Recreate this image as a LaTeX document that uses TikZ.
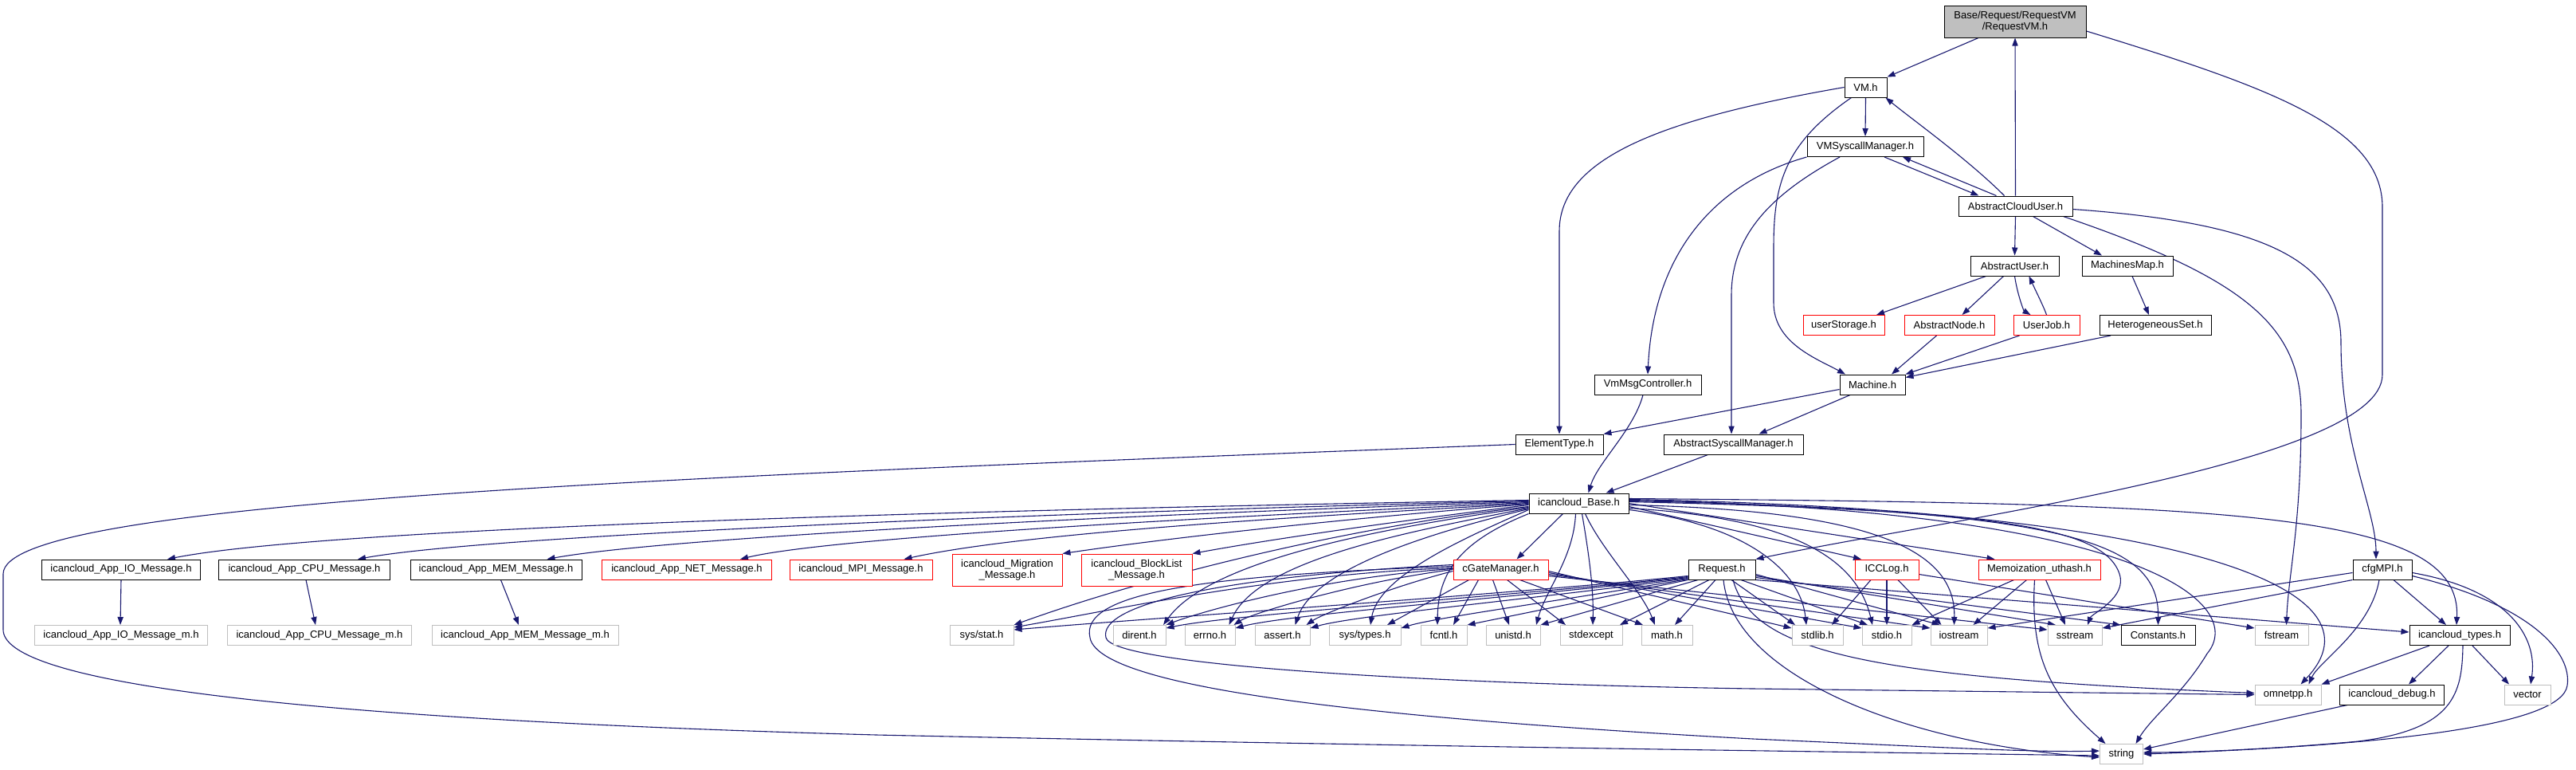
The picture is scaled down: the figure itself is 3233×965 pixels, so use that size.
\documentclass[tikz,border=0pt]{standalone}
\usepackage{fontspec}
\setmainfont{Liberation Sans}
\usetikzlibrary{arrows.meta,backgrounds}
\definecolor{mblue}{HTML}{191970}
\definecolor{lgray}{HTML}{BFBFBF}
\newcommand\dxfont{\fontsize{6.5}{7}\selectfont}
\begin{document}
\begin{tikzpicture}[x=0.5pt,y=-0.5pt,
  box/.style={draw, fill=white, line width=0.5pt, inner sep=0pt, minimum height=12.5pt, font=\dxfont, align=center},
  nb/.style={box, draw=black},
  nr/.style={box, draw=red},
  ng/.style={box, draw=lgray},
  lk/.style={draw=mblue, line width=0.55pt, -{Triangle[length=5pt,width=3.6pt]}}]
\begin{scope}[on background layer]
\path[use as bounding box, fill=white] (0,0) rectangle (3233,965);
\end{scope}
% ---------------- nodes ----------------
\node[nb, fill=lgray, minimum width=89pt, minimum height=20pt] (top) at (2529,27) {Base/Request/RequestVM\\/RequestVM.h};
\node[nb, minimum width=26.5pt] (vm) at (2341.5,109.5) {VM.h};
\node[nb, minimum width=73pt] (vmsys) at (2341,184) {VMSyscallManager.h};
\node[nb, minimum width=71.5pt] (acu) at (2529.5,258.5) {AbstractCloudUser.h};
\node[nb, minimum width=55.5pt] (au) at (2528.5,333.5) {AbstractUser.h};
\node[nb, minimum width=57pt] (mmap) at (2670,333.5) {MachinesMap.h};
\node[nr, minimum width=51pt] (ustor) at (2314,408) {userStorage.h};
\node[nr, minimum width=56.5pt] (anode) at (2446.5,408) {AbstractNode.h};
\node[nr, minimum width=41.5pt] (ujob) at (2568.5,408) {UserJob.h};
\node[nb, minimum width=70pt] (hset) at (2705,408) {HeterogeneousSet.h};
\node[nb, minimum width=41pt] (machine) at (2350,482.5) {Machine.h};
\node[nb, minimum width=67pt] (vmmsg) at (2068,482.5) {VmMsgController.h};
\node[nb, minimum width=55pt] (etype) at (1957,557.5) {ElementType.h};
\node[nb, minimum width=87.5pt] (asys) at (2175.5,557.5) {AbstractSyscallManager.h};
\node[nb, minimum width=62.5pt] (base) at (1981.5,631.5) {icancloud\_Base.h};
\node[nb, minimum width=99.5pt] (io) at (152,714.5) {icancloud\_App\_IO\_Message.h};
\node[nb, minimum width=107.5pt] (cpu) at (382,714.5) {icancloud\_App\_CPU\_Message.h};
\node[nb, minimum width=107.5pt] (mem) at (622.5,714.5) {icancloud\_App\_MEM\_Message.h};
\node[nr, minimum width=106.5pt] (net) at (862,714.5) {icancloud\_App\_NET\_Message.h};
\node[nr, minimum width=89.5pt] (mpi) at (1080.5,714.5) {icancloud\_MPI\_Message.h};
\node[nr, minimum width=69pt, minimum height=20pt] (migr) at (1264,715) {icancloud\_Migration\\\_Message.h};
\node[nr, minimum width=69.5pt, minimum height=20pt] (block) at (1426.5,715) {icancloud\_BlockList\\\_Message.h};
\node[nr, minimum width=59.5pt] (cgate) at (1883.5,714.5) {cGateManager.h};
\node[nb, minimum width=42pt] (request) at (2161,714.5) {Request.h};
\node[nr, minimum width=40pt] (iccl) at (2368,714.5) {ICCLog.h};
\node[nr, minimum width=76.5pt] (memo) at (2559.5,714.5) {Memoization\_uthash.h};
\node[nb, minimum width=37pt] (cfgmpi) at (2990,714.5) {cfgMPI.h};
\node[ng, minimum width=108.5pt] (iom) at (152,797) {icancloud\_App\_IO\_Message\_m.h};
\node[ng, minimum width=115.5pt] (cpum) at (401,797) {icancloud\_App\_CPU\_Message\_m.h};
\node[ng, minimum width=117pt] (memm) at (659,797) {icancloud\_App\_MEM\_Message\_m.h};
\node[ng, minimum width=40pt] (sysstat) at (1232,797) {sys/stat.h};
\node[ng, minimum width=33pt] (dirent) at (1430,797) {dirent.h};
\node[ng, minimum width=31.5pt] (errno) at (1518.5,797) {errno.h};
\node[ng, minimum width=34.5pt] (assert) at (1609.5,797) {assert.h};
\node[ng, minimum width=45pt] (systypes) at (1713,797) {sys/types.h};
\node[ng, minimum width=29pt] (fcntl) at (1812,797) {fcntl.h};
\node[ng, minimum width=34pt] (unistd) at (1899,797) {unistd.h};
\node[ng, minimum width=39pt] (stdexcept) at (1997,797) {stdexcept};
\node[ng, minimum width=32pt] (math) at (2092,797) {math.h};
\node[ng, minimum width=32pt] (stdlib) at (2281,797) {stdlib.h};
\node[ng, minimum width=31pt] (stdio) at (2368,797) {stdio.h};
\node[ng, minimum width=35.5pt] (iostream) at (2458.5,797) {iostream};
\node[ng, minimum width=34pt] (sstream) at (2604,797) {sstream};
\node[nb, minimum width=46.5pt] (constants) at (2708.5,797) {Constants.h};
\node[ng, minimum width=33.5pt] (fstream) at (2863.5,797) {fstream};
\node[nb, minimum width=63pt] (types) at (3087,797) {icancloud\_types.h};
\node[ng, minimum width=41.5pt] (omnetpp) at (2871.5,871.5) {omnetpp.h};
\node[nb, minimum width=65.5pt] (debug) at (3002,871.5) {icancloud\_debug.h};
\node[ng, minimum width=29pt] (vector) at (3172,871.5) {vector};
\node[ng, minimum width=27pt] (string) at (2662.5,946) {string};
% ---------------- edges ----------------
\begin{scope}[on background layer]
% upper part
\draw[lk] ([xshift=-23pt]top.south) -- (vm.north east);
\draw[lk] ([yshift=-6pt]top.east) .. controls (2850,110) and (2990,160) .. (2990,260) -- (2990,470) .. controls (2990,580) and (2450,650) .. (request.north east);
\draw[lk] (acu.north) -- (top.south);
\draw[lk] (vm.south) -- (vmsys.north);
\draw[lk] (vm.west) .. controls (2080,150) and (1957,200) .. (1957,290) -- (etype.north);
\draw[lk] ([xshift=-9pt]vm.south) .. controls (2240,180) and (2226,230) .. (2226,310) -- (2226,380) .. controls (2226,430) and (2280,450) .. ([xshift=-17pt]machine.north);
\draw[lk] ([xshift=-7pt]acu.north) .. controls (2470,200) and (2400,150) .. ([xshift=-1pt]vm.south east);
\draw[lk] (vmsys.south west) .. controls (2150,230) and (2075,320) .. (vmmsg.north);
\draw[lk] ([xshift=-16pt]vmsys.south) .. controls (2230,240) and (2173,290) .. (2173,370) -- ([xshift=-1.25pt]asys.north);
\draw[lk] ([xshift=12pt]vmsys.south) -- ([xshift=-23pt]acu.north);
\draw[lk] ([xshift=-12pt]acu.north) -- ([xshift=23.5pt]vmsys.south);
\draw[lk] (acu.south) -- (au.north);
\draw[lk] ([xshift=11pt]acu.south) -- ([xshift=-16pt]mmap.north);
\draw[lk] ([xshift=30pt]acu.south) .. controls (2820,350) and (2888,410) .. (2888,520) .. controls (2888,660) and (2872,720) .. ([xshift=3pt]fstream.north);
\draw[lk] ([yshift=-2pt]acu.east) .. controls (2850,280) and (2938,330) .. (2938,430) .. controls (2938,560) and (2982,640) .. ([xshift=-4pt]cfgmpi.north);
\draw[lk] ([xshift=-18pt]au.south) -- ([xshift=20.5pt]ustor.north);
\draw[lk] ([xshift=-7pt]au.south) -- ([xshift=8pt]anode.north);
\draw[lk] ([xshift=0pt]au.south) .. controls (2532,370) and (2540,390) .. ([xshift=-10pt]ujob.north);
\draw[lk] (ujob.north) .. controls (2565,385) and (2555,365) .. ([xshift=9pt]au.south);
\draw[lk] ([xshift=3pt]mmap.south) -- ([xshift=-4pt]hset.north);
\draw[lk] ([xshift=-8pt]anode.south) -- ([xshift=12pt]machine.north);
\draw[lk] ([xshift=-17pt]ujob.south) -- (machine.north east);
\draw[lk] ([xshift=-28pt]hset.south) -- ([yshift=-2pt]machine.north east);
\draw[lk] ([yshift=-3pt]machine.west) -- (etype.north east);
\draw[lk] ([xshift=-14pt]machine.south) -- ([xshift=16pt]asys.north);
\draw[lk] ([xshift=-3pt]vmmsg.south) .. controls (2050,540) and (2005,580) .. ([xshift=6pt]base.north);
\draw[lk] ([xshift=-16pt]asys.south) -- ([xshift=17pt]base.north);
% ElementType -> string (outer loop)
\draw[lk] (etype.west) .. controls (800,600) and (4,630) .. (4,720) -- (4,790) .. controls (4,850) and (300,900) .. (1100,922) .. controls (1800,937) and (2300,943) .. ([yshift=-1pt]string.west);
% icancloud_Base -> messages
\draw[lk] ([yshift=2pt]base.west) .. controls (1300,638) and (420,660) .. ([xshift=29pt]io.north);
\draw[lk] ([yshift=1.5pt]base.west) .. controls (1400,640) and (620,670) .. ([xshift=33.5pt]cpu.north);
\draw[lk] ([yshift=1pt]base.west) .. controls (1500,642) and (850,672) .. ([xshift=32pt]mem.north);
\draw[lk] ([yshift=0.5pt]base.west) .. controls (1600,645) and (1050,672) .. ([xshift=33.5pt]net.north);
\draw[lk] (base.west) .. controls (1700,645) and (1300,665) .. ([xshift=27pt]mpi.north);
\draw[lk] ([yshift=-0.5pt]base.west) .. controls (1750,645) and (1500,670) .. (migr.north east);
\draw[lk] ([yshift=-1pt]base.west) .. controls (1800,648) and (1620,672) .. (block.north east);
\draw[lk] (io.south) -- ([xshift=-0.5pt]iom.north);
\draw[lk] ([xshift=1pt]cpu.south) -- ([xshift=-2.5pt]cpum.north);
\draw[lk] ([xshift=3pt]mem.south) -- ([xshift=-4pt]memm.north);
% icancloud_Base -> system headers (left)
\draw[lk] ([yshift=-2pt]base.west) .. controls (1700,660) and (1450,720) .. (sysstat.north east);
\draw[lk] ([yshift=-2.5pt]base.west) .. controls (1750,660) and (1520,700) .. ([xshift=15pt]dirent.north);
\draw[lk] ([yshift=-3pt]base.west) .. controls (1780,665) and (1580,700) .. ([xshift=12pt]errno.north);
\draw[lk] ([yshift=-3.5pt]base.west) .. controls (1810,665) and (1650,710) .. ([xshift=8pt]assert.north);
\draw[lk] ([yshift=-4pt]base.west) .. controls (1850,670) and (1730,720) .. ([xshift=3.5pt]systypes.north);
\draw[lk] (base.south west) .. controls (1830,680) and (1805,720) .. ([xshift=-4pt]fcntl.north);
\draw[lk] ([xshift=-10pt]base.south) -- ([xshift=10pt]cgate.north);
\draw[lk] ([xshift=-2pt]base.south) .. controls (1975,700) and (1940,740) .. ([xshift=14.5pt]unistd.north);
\draw[lk] ([xshift=2pt]base.south) .. controls (1995,700) and (2000,740) .. ([xshift=1pt]stdexcept.north);
\draw[lk] ([xshift=4pt]base.south) .. controls (2010,690) and (2060,740) .. ([xshift=-7.5pt]math.north);
% icancloud_Base -> right side
\draw[lk] ([yshift=-4pt]base.east) .. controls (2200,660) and (2260,720) .. ([xshift=-7pt]stdlib.north);
\draw[lk] ([yshift=-3pt]base.east) .. controls (2250,650) and (2330,700) .. ([xshift=-9pt]stdio.north);
\draw[lk] ([yshift=-2pt]base.east) -- ([xshift=-16pt]iccl.north);
\draw[lk] ([yshift=-1pt]base.east) .. controls (2350,640) and (2455,690) .. ([xshift=-3pt]iostream.north);
\draw[lk] (base.east) -- ([xshift=-28pt]memo.north);
\draw[lk] ([yshift=1pt]base.east) .. controls (2500,640) and (2640,660) .. (2660,720) .. controls (2670,750) and (2625,770) .. ([xshift=8pt]sstream.north);
\draw[lk] ([yshift=1.5pt]base.east) .. controls (2600,640) and (2710,680) .. (constants.north);
\draw[lk] ([yshift=2pt]base.east) .. controls (2700,640) and (2820,760) .. (2770,820) .. controls (2740,870) and (2700,900) .. ([xshift=9pt]string.north);
\draw[lk] ([yshift=2.5pt]base.east) .. controls (2750,640) and (3000,740) .. ([xshift=8pt]omnetpp.north);
\draw[lk] ([yshift=3pt]base.east) .. controls (2800,632) and (3090,640) .. ([xshift=-2pt]types.north);
% cGateManager
\draw[lk] ([yshift=1pt]cgate.west) .. controls (1600,720) and (1400,765) .. ([yshift=-1.5pt]sysstat.north east);
\draw[lk] ([yshift=0.5pt]cgate.west) .. controls (1650,725) and (1500,770) .. (dirent.north east);
\draw[lk] (cgate.west) .. controls (1700,730) and (1570,770) .. ([xshift=15pt]errno.north);
\draw[lk] ([yshift=-1pt]cgate.west) .. controls (1750,735) and (1660,770) .. ([xshift=15pt]assert.north);
\draw[lk] ([xshift=-20pt]cgate.south) -- ([xshift=14pt]systypes.north);
\draw[lk] ([xshift=-14pt]cgate.south) -- ([xshift=6pt]fcntl.north);
\draw[lk] ([xshift=-5pt]cgate.south) -- ([xshift=-2.5pt]unistd.north);
\draw[lk] ([xshift=4pt]cgate.south) -- ([xshift=-16pt]stdexcept.north);
\draw[lk] ([xshift=12pt]cgate.south) -- ([xshift=-15pt]math.north);
\draw[lk] ([yshift=-1pt]cgate.east) -- ([yshift=-2pt]stdlib.north west);
\draw[lk] ([yshift=-2pt]cgate.east) -- ([yshift=-2pt]stdio.north west);
\draw[lk] ([yshift=-3pt]cgate.east) -- ([yshift=-2pt]iostream.north west);
\draw[lk] ([yshift=-4pt]cgate.east) -- ([yshift=-3pt]sstream.north west);
\draw[lk] ([yshift=2pt]cgate.west) .. controls (1500,722) and (1355,745) .. (1368,800) .. controls (1380,870) and (1800,905) .. (2200,927) .. controls (2450,938) and (2550,944) .. ([yshift=2pt]string.west);
\draw[lk] ([yshift=3pt]cgate.west) .. controls (1520,724) and (1378,760) .. (1388,800) .. controls (1396,835) and (1800,858) .. (2200,864) -- (omnetpp.west);
% Request.h
\draw[lk] ([yshift=-4pt]request.west) .. controls (1900,745) and (1450,775) .. ([yshift=-3pt]sysstat.north east);
\draw[lk] ([yshift=-4.5pt]request.west) .. controls (1900,748) and (1550,770) .. ([yshift=-2pt]dirent.north east);
\draw[lk] ([yshift=-5pt]request.west) .. controls (1900,750) and (1620,770) .. ([yshift=-2pt]errno.north east);
\draw[lk] ([yshift=-5.5pt]request.west) .. controls (1920,752) and (1700,772) .. ([yshift=-2pt]assert.north east);
\draw[lk] ([yshift=-6pt]request.west) .. controls (1950,755) and (1800,775) .. ([yshift=-2pt]systypes.north east);
\draw[lk] (request.south west) -- (fcntl.north east);
\draw[lk] ([xshift=-15pt]request.south) -- (unistd.north east);
\draw[lk] ([xshift=-8pt]request.south) -- ([xshift=18pt]stdexcept.north);
\draw[lk] ([xshift=-4pt]request.south) -- ([xshift=5pt]math.north);
\draw[lk] ([xshift=6pt]request.south) -- ([xshift=-14pt]stdlib.north);
\draw[lk] ([xshift=12pt]request.south) -- ([xshift=-12pt]stdio.north);
\draw[lk] ([yshift=-3pt]request.east) -- ([xshift=-12pt]iostream.north);
\draw[lk] ([yshift=-4pt]request.east) -- ([xshift=-12pt]sstream.north);
\draw[lk] ([yshift=-5pt]request.east) -- (constants.north west);
\draw[lk] (request.south east) -- ([yshift=2pt]types.west);
\draw[lk] ([xshift=7pt]request.south) .. controls (2200,820) and (2350,850) .. ([yshift=1pt]omnetpp.west);
\draw[lk] ([xshift=1pt]request.south) .. controls (2175,850) and (2400,935) .. ([yshift=-2pt]string.west);
% ICCLog.h
\draw[lk] ([xshift=-10pt]iccl.south) -- ([xshift=9pt]stdlib.north);
\draw[lk] (iccl.south) -- (stdio.north);
\draw[lk] ([xshift=7pt]iccl.south) -- ([xshift=-11pt]iostream.north);
\draw[lk] ([yshift=-3pt]iccl.east) -- ([yshift=-2pt]fstream.north west);
% Memoization_uthash.h
\draw[lk] ([xshift=-16pt]memo.south) -- (stdio.north east);
\draw[lk] ([xshift=-8pt]memo.south) -- ([xshift=9pt]iostream.north);
\draw[lk] ([xshift=4pt]memo.south) -- ([xshift=-6pt]sstream.north);
\draw[lk] ([xshift=-3pt]memo.south) .. controls (2548,820) and (2570,870) .. ([xshift=-10pt]string.north);
% cfgMPI.h
\draw[lk] ([yshift=-2pt]cfgmpi.west) -- ([yshift=-2pt]iostream.north east);
\draw[lk] (cfgmpi.south west) -- ([yshift=-2pt]sstream.north east);
\draw[lk] ([xshift=-2pt]cfgmpi.south) .. controls (2975,790) and (2910,830) .. ([xshift=13pt]omnetpp.north);
\draw[lk] ([xshift=7pt]cfgmpi.south) -- ([xshift=-8.5pt]types.north);
\draw[lk] ([yshift=-2pt]cfgmpi.east) .. controls (3150,740) and (3185,800) .. ([xshift=2pt]vector.north);
\draw[lk] ([yshift=-4pt]cfgmpi.east) .. controls (3180,760) and (3228,820) .. (3222,860) .. controls (3215,910) and (3000,935) .. (string.east);
% icancloud_types.h
\draw[lk] ([xshift=-19pt]types.south) -- (omnetpp.north east);
\draw[lk] ([xshift=-7pt]types.south) -- ([xshift=10.5pt]debug.north);
\draw[lk] ([xshift=8pt]types.south) -- ([xshift=-11.5pt]vector.north);
\draw[lk] ([xshift=2pt]types.south) .. controls (3090,870) and (3080,915) .. (2960,930) .. controls (2850,940) and (2750,944) .. ([yshift=1pt]string.east);
% icancloud_debug.h
\draw[lk] ([xshift=-28pt]debug.south) -- ([yshift=3pt]string.east);
\end{scope}
\end{tikzpicture}
\end{document}
